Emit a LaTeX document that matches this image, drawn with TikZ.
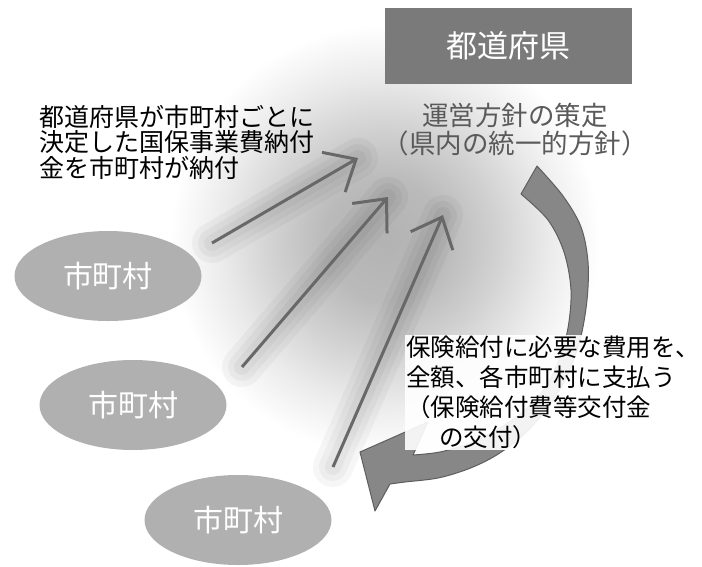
\documentclass[tikz,border=0pt]{standalone}
\usepackage{fontspec}
\newfontfamily\jp{Noto Sans CJK JP}
\usetikzlibrary{arrows.meta,shapes.geometric}
\definecolor{boxgray}{HTML}{7A7A7A}
\definecolor{ellgray}{HTML}{B0B0B0}
\definecolor{arrgray}{HTML}{686868}
\definecolor{curvegray}{HTML}{878787}
\definecolor{curveedge}{HTML}{5E5E5E}
\definecolor{softtext}{HTML}{5A5A5A}
\pgfdeclareradialshading{glowshade}{\pgfpoint{0bp}{0bp}}{color(0bp)=(black!30); color(7bp)=(black!27); color(13bp)=(black!18); color(19bp)=(black!8); color(25bp)=(white); color(50bp)=(white)}
\tikzset{
  town/.style={ellipse, fill=ellgray, minimum width=187pt, minimum height=90pt, inner sep=0pt, text=white, font=\jp\fontsize{30}{30}\selectfont},
  pref/.style={rectangle, fill=boxgray, minimum width=247pt, minimum height=76pt, inner sep=0pt, text=white, font=\jp\fontsize{31}{31}\selectfont},
  paytext/.style={inner sep=0pt, align=left, text=black},
  flowarrow/.style={draw=arrgray, line width=3pt, -{Straight Barb[length=26pt,width=46pt]}},
  flowshadow/.style={draw=black, opacity=0.035, line cap=round},
  bigturn/.style={fill=curvegray, draw=curveedge, line width=1pt, line join=round}
}
\begin{document}
\begin{tikzpicture}[x=1pt,y=-1pt]
\useasboundingbox (0,0) rectangle (702,566);
\fill[white] (0,0) rectangle (702,566);
% glow
\shade[shading=glowshade] (385,240) circle[radius=215pt];
% arrow end points
\coordinate (t1) at (212,243); \coordinate (h1) at (358,158);
\coordinate (t2) at (242,367); \coordinate (h2) at (388,197);
\coordinate (t3) at (333,467); \coordinate (h3) at (443,215);
% soft bands
\foreach \w in {40,28,16} {
  \draw[flowshadow, line width=\w pt] (t1) -- (h1);
  \draw[flowshadow, line width=\w pt] (t2) -- (h2);
  \draw[flowshadow, line width=\w pt] (t3) -- (h3);
}
% towns
\node[town] (m1) at (108,276) {市町村};
\node[town] (m2) at (133,405) {市町村};
\node[town] (m3) at (238,520) {市町村};
% prefecture
\node[pref] (pf) at (508.5,46) {都道府県};
\node[inner sep=0pt, align=center, text=softtext, font=\jp\fontsize{26.5}{28}\selectfont, anchor=north] (pol) at (515,103) {運営方針の策定\\（県内の統一的方針）};
% left text
\node[paytext, anchor=north west, font=\jp\fontsize{25}{25.5}\selectfont] (lt) at (39,105) {都道府県が市町村ごとに\\決定した国保事業費納付\\金を市町村が納付};
% curved arrow
\filldraw[bigturn] plot[smooth, tension=0.55] coordinates {(537,166) (563,196) (581,227) (588,262) (587,300) (580,340) (566,378) (546,410) (521,437) (495,456) (468,469) (438,478) (405,482) (390,484)} -- (375,511) -- (360,452) -- (428,422) -- plot[smooth, tension=0.55] coordinates {(413,455) (440,452) (470,443) (500,428) (525,410) (545,388) (559,360) (568,328) (571,290) (564,252) (548,220) (521,194)} -- cycle;
% flow arrows
\draw[flowarrow] (t1) -- (h1);
\draw[flowarrow] (t2) -- (h2);
\draw[flowarrow] (t3) -- (h3);
% right text
\node[paytext, anchor=north west, fill=white, fill opacity=0.9, text opacity=1, inner sep=1pt, font=\jp\fontsize{24.5}{30}\selectfont] (rt) at (405,335) {保険給付に必要な費用を、\\全額、各市町村に支払う\\（保険給付費等交付金\\\hspace*{33pt}の交付）};
\end{tikzpicture}
\end{document}
